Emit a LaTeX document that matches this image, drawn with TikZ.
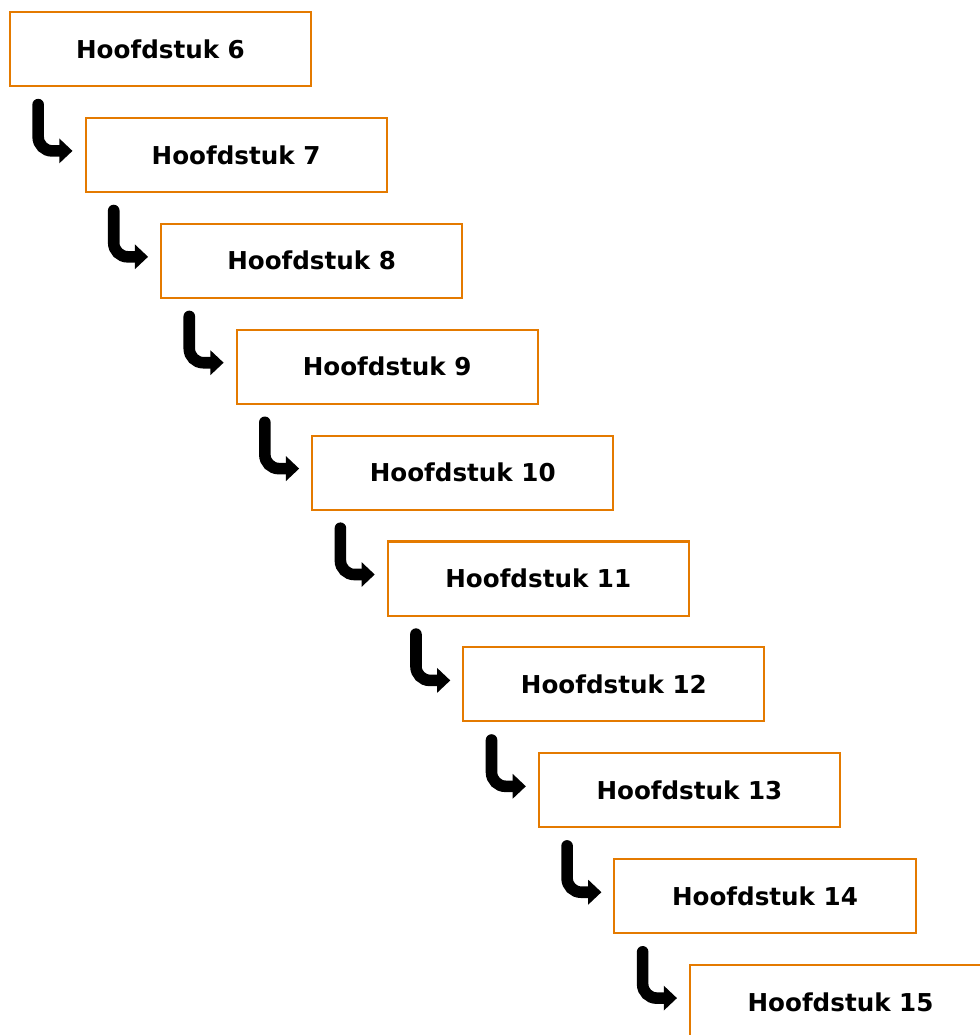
\documentclass[tikz,border=0pt]{standalone}
\usepackage{fontspec}
\setmainfont{DejaVu Sans}
\usetikzlibrary{arrows.meta}
\definecolor{kaderoranje}{RGB}{228,122,0}

\begin{document}
\begin{tikzpicture}[x=0.025cm,y=-0.025cm]
	\clip (0,0) rectangle (980,1035);
	\tikzset{
		hoofdstuk/.style={draw=kaderoranje,line width=0.05cm,fill=white,minimum width=7.525cm,minimum height=1.85cm,inner sep=0pt,font=\bfseries\fontsize{17.5}{20}\selectfont},
		pijl/.style={line width=0.29cm,rounded corners=0.35cm,line cap=round,-{Triangle[length=0.33cm,width=0.6cm]}}
	}

	% hoofdstukken
	\foreach \i in {6,...,15} {
		\pgfmathsetmacro{\xc}{160.5+(\i-6)*75.56}
		\pgfmathsetmacro{\yc}{49+(\i-6)*105.9}
		\node[hoofdstuk] (H\i) at (\xc,\yc) {Hoofdstuk \i};
	}

	% pijlen
	\foreach \i [evaluate=\i as \j using int(\i+1)] in {6,...,14} {
		\draw[pijl] ([xshift=0.73cm,yshift=-0.44cm]H\i.south west) |- ([xshift=-0.3cm,yshift=0.1cm]H\j.west);
	}
\end{tikzpicture}
\end{document}
